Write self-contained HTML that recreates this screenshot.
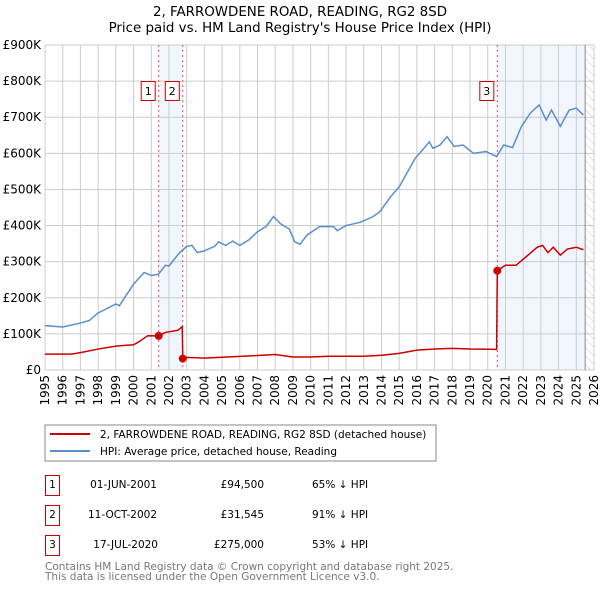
<!DOCTYPE html>
<html><head><meta charset="utf-8"><style>
body{margin:0;background:#fff;font-family:"DejaVu Sans","Liberation Sans",sans-serif;}
svg text{font-family:"DejaVu Sans","Liberation Sans",sans-serif;}
</style></head><body>
<svg id="c" width="600" height="590" xmlns="http://www.w3.org/2000/svg">
<defs><pattern id="hatch" width="6" height="6" patternUnits="userSpaceOnUse" patternTransform="rotate(-45)"><line x1="0" y1="0" x2="0" y2="6" stroke="#ccc" stroke-width="1"/></pattern></defs>
<text x="300" y="16" text-anchor="middle" font-size="13.4">2, FARROWDENE ROAD, READING, RG2 8SD</text>
<text x="300" y="32" text-anchor="middle" font-size="13.4">Price paid vs. HM Land Registry's House Price Index (HPI)</text>
<g id="plot"></g>
<g>
<rect x="45" y="425" width="391" height="36" fill="#fff" stroke="#888"/>
<line x1="50" y1="434" x2="90" y2="434" stroke="#cc0000" stroke-width="2"/>
<text x="100" y="438" font-size="10.5">2, FARROWDENE ROAD, READING, RG2 8SD (detached house)</text>
<line x1="50" y1="451" x2="90" y2="451" stroke="#5b8ed0" stroke-width="2"/>
<text x="100" y="455" font-size="10.5">HPI: Average price, detached house, Reading</text>
</g>
<g font-size="10.5">
<rect x="45.5" y="475.5" width="14" height="20" fill="#fff" stroke="#cc0000"/><text x="52.5" y="488" text-anchor="middle">1</text>
<text x="157" y="488" text-anchor="end">01-JUN-2001</text><text x="264" y="488" text-anchor="end">£94,500</text><text x="312" y="488">65% ↓ HPI</text>
<rect x="45.5" y="505.5" width="14" height="20" fill="#fff" stroke="#cc0000"/><text x="52.5" y="518" text-anchor="middle">2</text>
<text x="157" y="518" text-anchor="end">11-OCT-2002</text><text x="264" y="518" text-anchor="end">£31,545</text><text x="312" y="518">91% ↓ HPI</text>
<rect x="45.5" y="535.5" width="14" height="20" fill="#fff" stroke="#cc0000"/><text x="52.5" y="548" text-anchor="middle">3</text>
<text x="158" y="548" text-anchor="end">17-JUL-2020</text><text x="264" y="548" text-anchor="end">£275,000</text><text x="312" y="548">53% ↓ HPI</text>
</g>
<text x="45" y="570" font-size="10.5" fill="#777">Contains HM Land Registry data © Crown copyright and database right 2025.</text>
<text x="45" y="580" font-size="10.5" fill="#777">This data is licensed under the Open Government Licence v3.0.</text>
</svg>
<script>
const hpiYears=[1995,1996,1997,1997.5,1998,1999,1999.2,2000,2000.6,2001,2001.4,2001.8,2002,2002.6,2003,2003.3,2003.6,2004,2004.6,2004.8,2005.2,2005.6,2006,2006.5,2007,2007.5,2007.9,2008.3,2008.8,2009.1,2009.4,2009.8,2010.5,2011.3,2011.5,2012,2012.8,2013.5,2013.9,2014.5,2015,2015.9,2016.4,2016.7,2016.9,2017.3,2017.7,2018.1,2018.6,2019.2,2019.9,2020.5,2020.9,2021.4,2021.9,2022.4,2022.9,2023.3,2023.6,2024.1,2024.6,2025,2025.4];
const hpiValues=[123,119,130,137,158,183,178,238,270,262,265,290,288,325,342,345,325,330,343,355,345,357,345,360,383,398,425,405,390,355,348,374,397,397,386,400,409,424,438,479,507,586,614,632,614,623,646,619,623,600,605,591,623,616,674,711,734,692,720,675,720,725,706];
const ppYears=[1995,1996.5,1997,1998,1999,2000,2000.3,2000.8,2001.42,2001.8,2002.5,2002.75,2002.78,2003,2004,2007,2008,2009,2010,2011,2013,2014,2015,2016,2017,2018,2019,2020.5,2020.54,2021,2021.6,2022.2,2022.8,2023.1,2023.4,2023.7,2024.1,2024.5,2025,2025.4];
const ppValues=[44,44,48,58,66,70,78,95,94.5,104,110,120,31.5,35,33,40,43,36,36,38,38,41,46,55,58,60,58,57,275,290,290,315,340,345,325,340,318,335,340,333];
const saleYears=[2001.42,2002.78,2020.54];
const saleValues=[94.5,31.545,275];
const saleLabels=["1","2","3"];
const yTicks=[0,100,200,300,400,500,600,700,800,900];
const yTickLabels=["£0","£100K","£200K","£300K","£400K","£500K","£600K","£700K","£800K","£900K"];
const xTicks=[1995,1996,1997,1998,1999,2000,2001,2002,2003,2004,2005,2006,2007,2008,2009,2010,2011,2012,2013,2014,2015,2016,2017,2018,2019,2020,2021,2022,2023,2024,2025,2026];

const L=45,R=594,T=45,B=370;
const x=y=>L+(y-1995)/(2026-1995)*(R-L);
const yv=v=>B-v/900*(B-T);
const g=document.getElementById('plot');
const NS='http://www.w3.org/2000/svg';
function mk(t,a){const e=document.createElementNS(NS,t);for(const k in a)e.setAttribute(k,a[k]);g.appendChild(e);return e;}
let e;
e=mk('rect',{x:x(saleYears[0]),y:T,width:x(saleYears[1])-x(saleYears[0]),height:B-T,fill:'#eef3fc',opacity:0.8});


e=mk('rect',{x:x(saleYears[2]),y:T,width:x(2025.5)-x(saleYears[2]),height:B-T,fill:'#eef3fc',opacity:0.8});


e=mk('rect',{x:x(2025.5),y:T,width:R-x(2025.5),height:B-T,fill:'url(#hatch)'});


yTicks.forEach((t,i)=>{
 e=mk('line',{x1:L,x2:R,y1:yv(t),y2:yv(t),stroke:'#ccc'});
 
 
 e=mk('text',{x:L-4,y:yv(t)+4,'text-anchor':'end','font-size':12});
 e.textContent=yTickLabels[i];
 
 
});
xTicks.forEach(t=>{
 e=mk('line',{x1:x(t),x2:x(t),y1:T,y2:B,stroke:'#ccc'});
 
 
 e=mk('text',{x:0,y:0,'text-anchor':'end','font-size':12,transform:`translate(${x(t)+4},${B+5}) rotate(-90)`});
 e.textContent=t;
 
 
});
e=mk('line',{x1:x(2025.5),x2:x(2025.5),y1:T,y2:B,stroke:'#888'});


saleYears.forEach((s,i)=>{
 e=mk('line',{x1:x(s),x2:x(s),y1:T,y2:B,stroke:'#e05050','stroke-dasharray':'2,3'});
 
 
 e=mk('rect',{x:x(s)-17.5,y:81.5,width:14,height:19,fill:'#fff',stroke:'#cc0000'});
 
 
 e=mk('text',{x:x(s)-10.5,y:95,'text-anchor':'middle','font-size':11});
 e.textContent=saleLabels[i];
 
 
});
e=mk('polyline',{points:hpiYears.map((t,i)=>x(t)+','+yv(hpiValues[i])).join(' '),fill:'none',stroke:'#5b8ed0','stroke-width':1.5});


e=mk('polyline',{points:ppYears.map((t,i)=>x(t)+','+yv(ppValues[i])).join(' '),fill:'none',stroke:'#cc0000','stroke-width':1.5});


saleYears.forEach((s,i)=>{
 e=mk('circle',{cx:x(s),cy:yv(saleValues[i]),r:4,fill:'#cc0000'});
 
 
});
</script>
</body></html>
